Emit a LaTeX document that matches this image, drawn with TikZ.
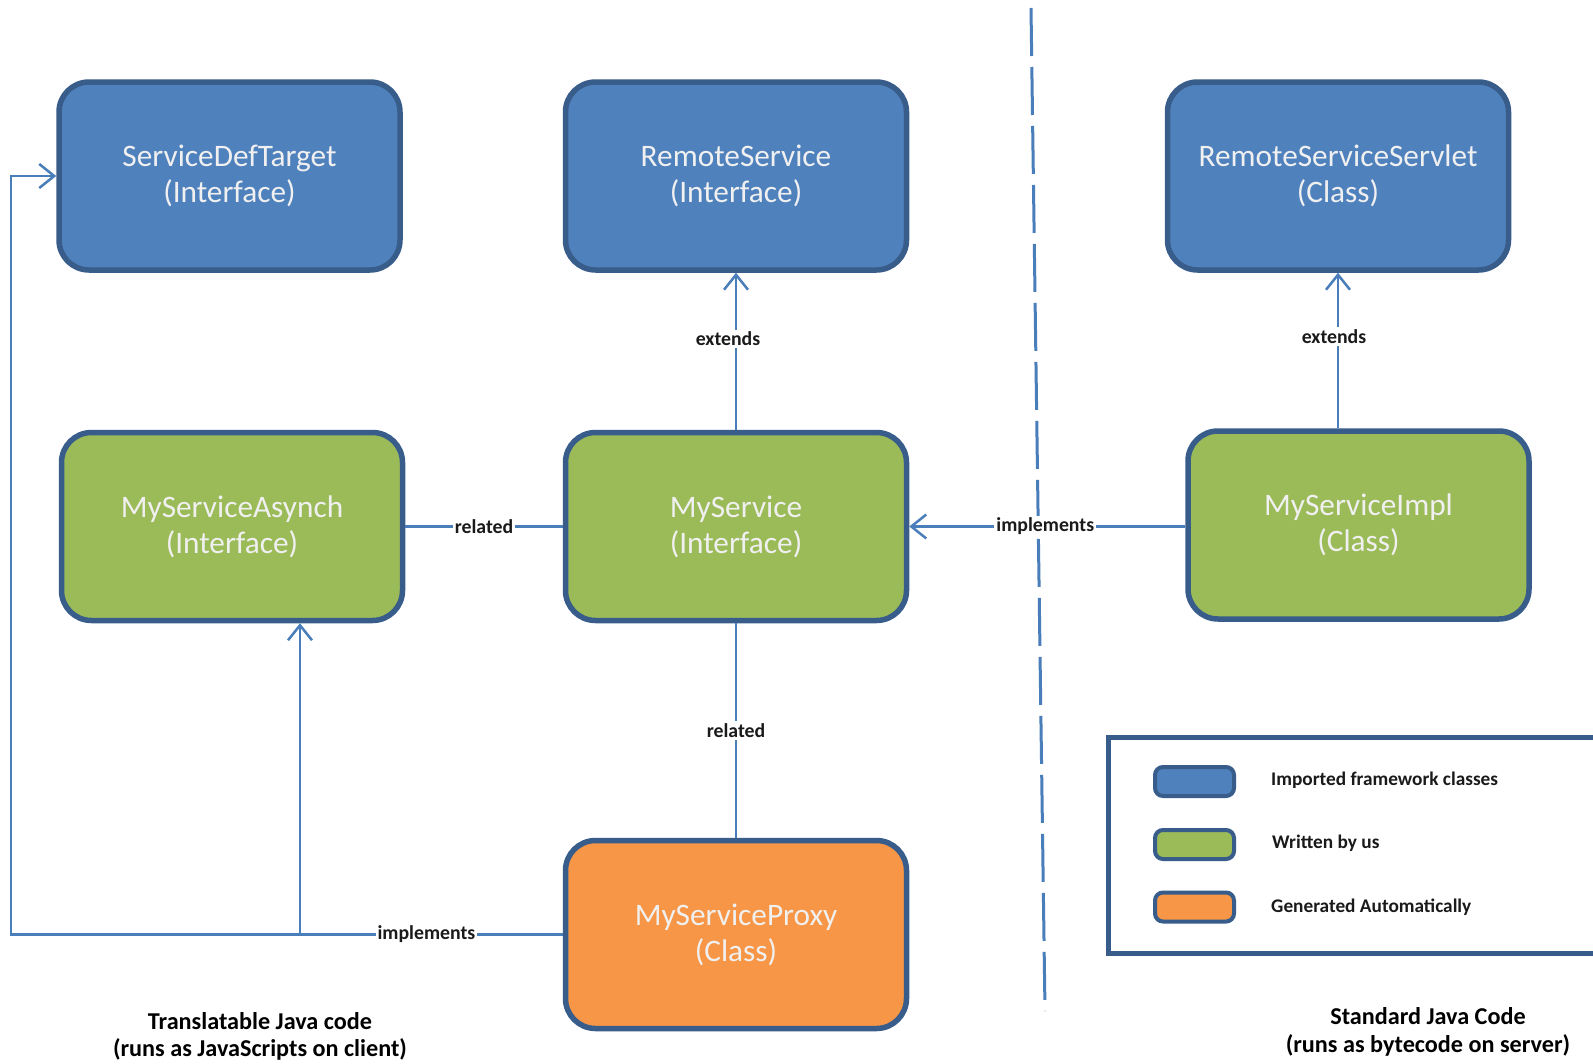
\documentclass[tikz,border=0pt]{standalone}
\usepackage{fontspec}
\setmainfont{Carlito}
\usetikzlibrary{arrows.meta}
\definecolor{boxblue}{HTML}{4F81BD}
\definecolor{boxgreen}{HTML}{9BBB59}
\definecolor{boxorange}{HTML}{F79646}
\definecolor{edgeblue}{HTML}{385D8A}
\definecolor{linkblue}{HTML}{4A7EBB}
\definecolor{labelink}{HTML}{1A1A1A}
\tikzset{
  classbox/.style={draw=edgeblue, line width=5.5pt, rounded corners=30pt,
    minimum width=341pt, minimum height=188pt, align=center,
    text=white!94!black, font=\fontsize{31.3}{36}\selectfont},
  bluebox/.style={classbox, fill=boxblue},
  greenbox/.style={classbox, fill=boxgreen},
  orangebox/.style={classbox, fill=boxorange},
  conn/.style={draw=linkblue, line width=2.5pt},
  openarrow/.style={-{Straight Barb[length=15pt,width=24pt,line width=2.5pt]}},
  lbl/.style={fill=white, inner sep=2pt, text=labelink,
    font=\bfseries\fontsize{19.8}{22}\selectfont},
  swatch/.style={draw=edgeblue, line width=4pt, rounded corners=8pt,
    minimum width=79pt, minimum height=29pt},
  legendtext/.style={anchor=west, text=labelink, inner sep=0pt,
    font=\bfseries\fontsize{19.3}{22}\selectfont},
  captiontext/.style={align=center, text=black, inner sep=0pt,
    font=\bfseries\fontsize{24.2}{27.5}\selectfont}
}
\begin{document}
\begin{tikzpicture}[x=1pt,y=-1pt]
\useasboundingbox[fill=white] (0,0) rectangle (1593,1063);

% dashed divider
\draw[draw=linkblue, line width=3pt, dash pattern=on 48pt off 11pt] (1031,8) -- (1045,1011);

% boxes
\node[bluebox] (sdt) at (229.5,176) {ServiceDefTarget\\(Interface)};
\node[bluebox] (rs) at (736,176) {RemoteService\\(Interface)};
\node[bluebox] (rss) at (1338,176) {RemoteServiceServlet\\(Class)};
\node[greenbox] (asy) at (232,526.5) {MyServiceAsynch\\(Interface)};
\node[greenbox] (ms) at (736,526.5) {MyService\\(Interface)};
\node[greenbox] (impl) at (1358.5,525) {MyServiceImpl\\(Class)};
\node[orangebox] (proxy) at (736,934.5) {MyServiceProxy\\(Class)};

% connectors
\draw[conn, openarrow] (ms.north) -- node[lbl, pos=0.58, xshift=-8pt] {extends} (rs.south);
\draw[conn, openarrow] (rss.south |- impl.north) -- node[lbl, pos=0.59, xshift=-4pt] {extends} (rss.south);
\draw[conn] (asy.east) -- node[lbl, pos=0.5] {related} (ms.west);
\draw[conn, openarrow] (impl.west |- ms.east) -- node[lbl, pos=0.507] {implements} (ms.east);
\draw[conn] (ms.south) -- node[lbl, pos=0.5] {related} (proxy.north);

\coordinate (leftrail) at (11,0);
\coordinate (branch) at (300,0);
\draw[conn, openarrow] (branch |- proxy.west) -- (branch |- asy.south);
\draw[conn, openarrow] (proxy.west) -- node[lbl, pos=0.247] {implements} (leftrail |- proxy.west) |- (sdt.west);

% legend
\begin{scope}
\clip (0,0) rectangle (1593,1063);
\draw[draw=edgeblue, line width=5pt] (1610,737) -- (1108,737) -- (1108,953) -- (1610,953);
\end{scope}
\node[swatch, fill=boxblue] (sw1) at (1194.5,781.5) {};
\node[swatch, fill=boxgreen] (sw2) at (1194.5,844.5) {};
\node[swatch, fill=boxorange] (sw3) at (1194.5,907) {};
\node[legendtext] (lt1) at (1271,780) {Imported framework classes};
\node[legendtext] (lt2) at (1272,843) {Written by us};
\node[legendtext] (lt3) at (1271,907) {Generated Automatically};

% captions
\node[captiontext] (capl) at (260,1036.5) {Translatable Java code\\(runs as JavaScripts on client)};
\node[captiontext] (capr) at (1428,1032) {Standard Java Code\\(runs as bytecode on server)};
\end{tikzpicture}
\end{document}
